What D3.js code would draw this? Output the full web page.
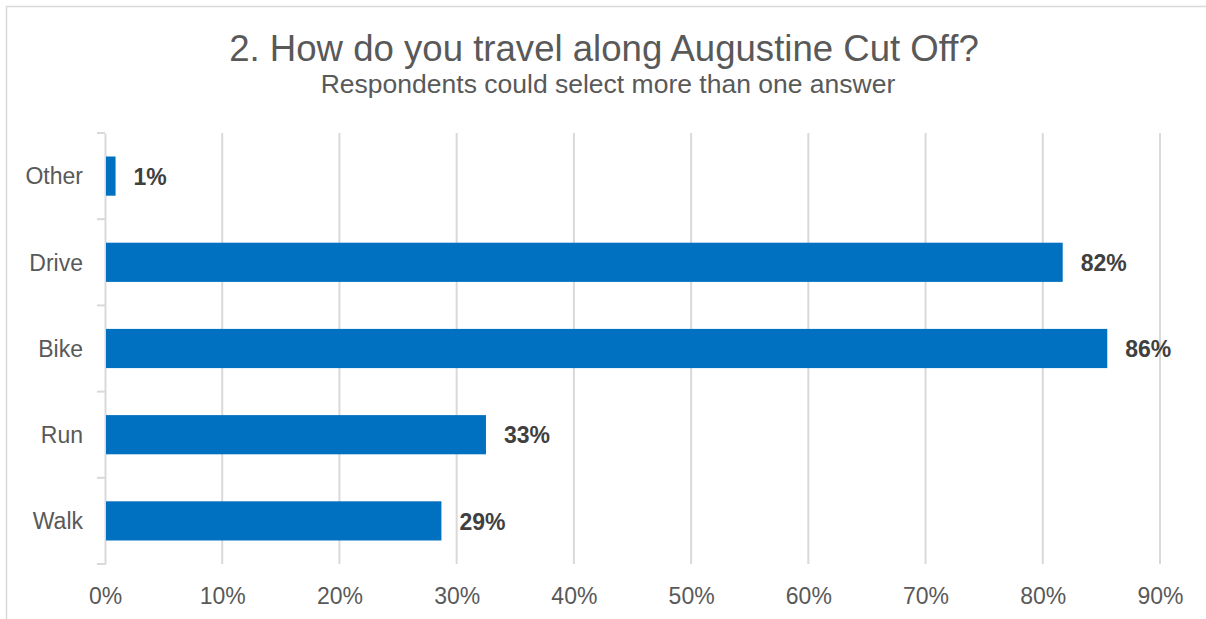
<!DOCTYPE html>
<html>
<head>
<meta charset="utf-8">
<script src="https://cdn.jsdelivr.net/npm/d3@7"></script>
<style>
  html, body { margin: 0; padding: 0; background: #ffffff; }
  svg { display: block; font-family: "Liberation Sans", Arial, sans-serif; }
</style>
</head>
<body>
<svg id="chart" width="1206" height="619"></svg>
<script>
// Survey question 2: travel modes (multi-select), share of respondents
const categories = ["Other", "Drive", "Bike", "Run", "Walk"];
const shares = [0.009, 0.817, 0.855, 0.325, 0.287];
const tickValues = [0, 0.1, 0.2, 0.3, 0.4, 0.5, 0.6, 0.7, 0.8, 0.9];
const titleText = "2. How do you travel along Augustine Cut Off?";
const subtitleText = "Respondents could select more than one answer";

const rows = categories.map((c, i) => ({ category: c, value: shares[i] }));

const svg = d3.select("#chart");
const plot = { left: 105, right: 1160, top: 133, bottom: 564 };

// frame around the chart area
svg.append("rect")
  .attr("x", 6.5).attr("y", 6.5)
  .attr("width", 1220).attr("height", 640)
  .attr("fill", "none")
  .attr("stroke", "#d9d9d9")
  .attr("stroke-width", 1.5);

const x = d3.scaleLinear().domain([0, 0.9]).range([plot.left, plot.right]);
const y = d3.scaleBand().domain(categories).range([plot.top, plot.bottom]).padding(0);
const barH = y.bandwidth() / 2.2;
const pct = v => Math.round(v * 100) + "%";

// vertical gridlines
svg.append("g")
  .selectAll("line")
  .data(tickValues.slice(1))
  .join("line")
  .attr("x1", d => x(d)).attr("x2", d => x(d))
  .attr("y1", plot.top).attr("y2", plot.bottom)
  .attr("stroke", "#d9d9d9")
  .attr("stroke-width", 2);

// x axis labels
const xAxis = svg.append("g")
  .attr("transform", `translate(0,${plot.bottom})`)
  .call(d3.axisBottom(x).tickValues(tickValues).tickFormat(d3.format(".0%")).tickSize(0).tickPadding(24));
xAxis.select(".domain").remove();
xAxis.selectAll("text")
  .attr("fill", "#595959")
  .style("font-size", "23px");

// category axis with boundary ticks
const yAxis = svg.append("g")
  .attr("transform", `translate(${plot.left},0)`)
  .call(d3.axisLeft(y).tickSize(0).tickPadding(22));
yAxis.select(".domain")
  .attr("stroke", "#d9d9d9")
  .attr("stroke-width", 2);
yAxis.selectAll("text")
  .attr("fill", "#595959")
  .style("font-size", "23px")
  .attr("dy", "0.36em");

const boundaries = categories.map(c => y(c)).concat([plot.bottom]);
yAxis.append("g")
  .selectAll("line")
  .data(boundaries)
  .join("line")
  .attr("x1", -8).attr("x2", 0)
  .attr("y1", d => d).attr("y2", d => d)
  .attr("stroke", "#d9d9d9")
  .attr("stroke-width", 2);

// bars
svg.append("g")
  .selectAll("rect")
  .data(rows)
  .join("rect")
  .attr("x", x(0) + 1)
  .attr("y", d => y(d.category) + (y.bandwidth() - barH) / 2)
  .attr("width", d => x(d.value) - x(0) - 1)
  .attr("height", barH)
  .attr("fill", "#0070c0");

// value labels
svg.append("g")
  .selectAll("text")
  .data(rows)
  .join("text")
  .attr("x", d => x(d.value) + 18)
  .attr("y", d => y(d.category) + y.bandwidth() / 2)
  .attr("dy", "0.38em")
  .attr("fill", "#404040")
  .style("font-size", "23px")
  .style("font-weight", "bold")
  .text(d => pct(d.value));

// titles
svg.append("text")
  .attr("x", 604).attr("y", 60.5)
  .attr("text-anchor", "middle")
  .attr("fill", "#595959")
  .style("font-size", "36.6px")
  .text(titleText);

svg.append("text")
  .attr("x", 608).attr("y", 92.5)
  .attr("text-anchor", "middle")
  .attr("fill", "#595959")
  .style("font-size", "26.5px")
  .text(subtitleText);
</script>
</body>
</html>
